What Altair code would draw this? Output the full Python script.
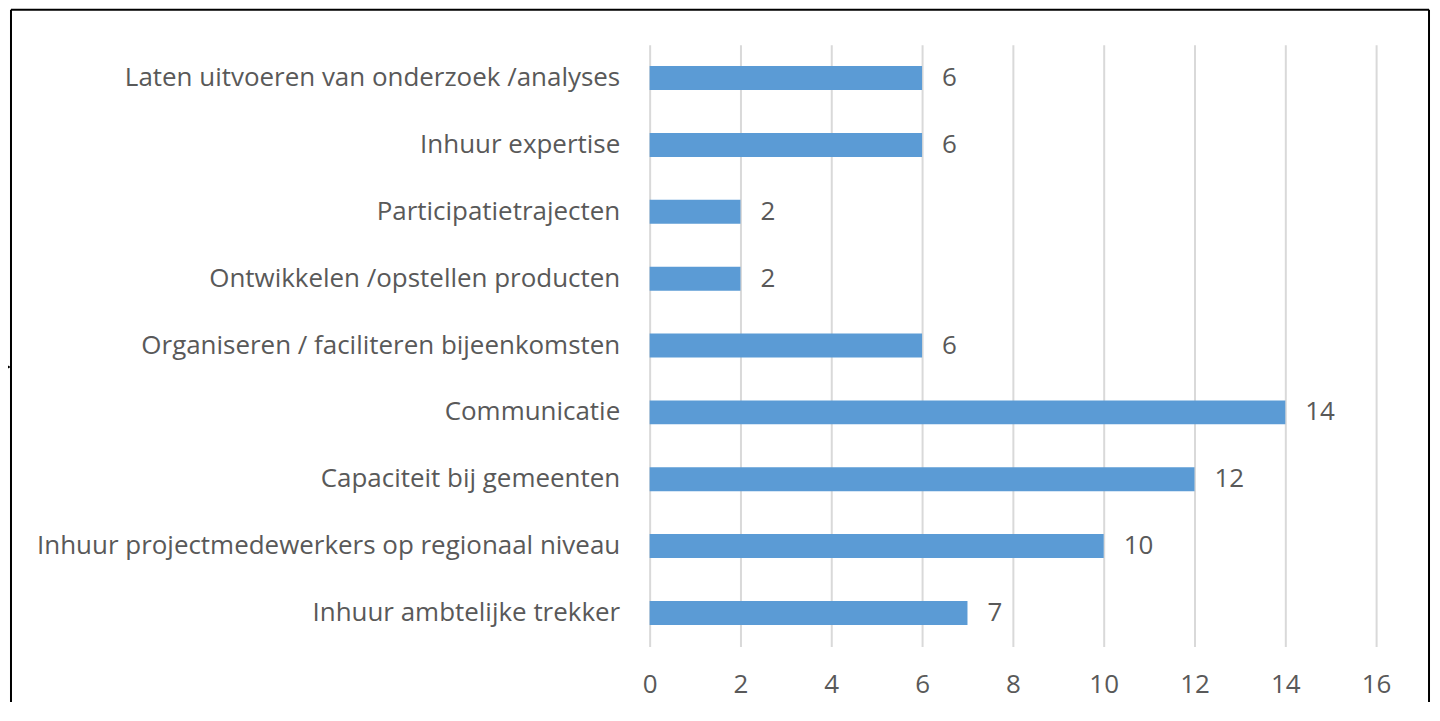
import altair as alt
import pandas as pd

categories = [
    "Laten uitvoeren van onderzoek /analyses",
    "Inhuur expertise",
    "Participatietrajecten",
    "Ontwikkelen /opstellen producten",
    "Organiseren / faciliteren bijeenkomsten",
    "Communicatie",
    "Capaciteit bij gemeenten",
    "Inhuur projectmedewerkers op regionaal niveau",
    "Inhuur ambtelijke trekker",
]
values = [6, 6, 2, 2, 6, 14, 12, 10, 7]
x_ticks = [0, 2, 4, 6, 8, 10, 12, 14, 16]

df = pd.DataFrame({"cat": categories, "val": values})

FONT = "Open Sans"
GRAY = "#595959"
FS = 26

x_enc = alt.X(
    "val:Q",
    scale=alt.Scale(domain=[0, 16], nice=False),
    axis=alt.Axis(
        values=x_ticks, title=None, grid=True, gridColor="#d9d9d9", gridWidth=2,
        domain=False, ticks=False, labelFont=FONT, labelFontSize=FS,
        labelColor=GRAY, labelPadding=25, labelFlush=False,
    ),
)
y_enc = alt.Y(
    "cat:N",
    sort=categories,
    scale=alt.Scale(paddingInner=0.64, paddingOuter=0.32),
    axis=alt.Axis(
        title=None, domain=False, ticks=False, labelFont=FONT, labelFontSize=FS,
        labelColor=GRAY, labelPadding=30, labelLimit=700,
    ),
)

bars = alt.Chart(df).mark_bar(color="#5B9BD5", size=24).encode(x=x_enc, y=y_enc)
labels = alt.Chart(df).mark_text(
    align="left", baseline="middle", dx=20, font=FONT, fontSize=FS, color=GRAY
).encode(x="val:Q", y=alt.Y("cat:N", sort=categories), text="val:Q")

frame_df = pd.DataFrame({"k": [0]})
left_line = alt.Chart(frame_df).mark_rule(color="black", strokeWidth=2).encode(
    x=alt.value(-640), x2=alt.value(-640), y=alt.value(-35), y2=alt.value(700)
)
top_line = alt.Chart(frame_df).mark_rule(color="black", strokeWidth=2).encode(
    x=alt.value(-640), x2=alt.value(781), y=alt.value(-35), y2=alt.value(-35)
)
right_line = alt.Chart(frame_df).mark_rule(color="black", strokeWidth=2).encode(
    x=alt.value(781), x2=alt.value(781), y=alt.value(-35), y2=alt.value(700)
)
arrow = alt.Chart(frame_df).mark_point(
    shape="triangle-right", filled=True, color="black", size=120, opacity=1
).encode(x=alt.value(-645), y=alt.value(323))

chart = alt.layer(bars, labels, left_line, top_line, right_line, arrow).properties(
    width=728, height=603,
    autosize=alt.AutoSizeParams(type="none"),
    padding={"left": 643, "top": 36, "right": 56, "bottom": 55},
).configure_view(stroke=None)

chart.save("out.html", embed_options={"renderer": "svg", "actions": False})
